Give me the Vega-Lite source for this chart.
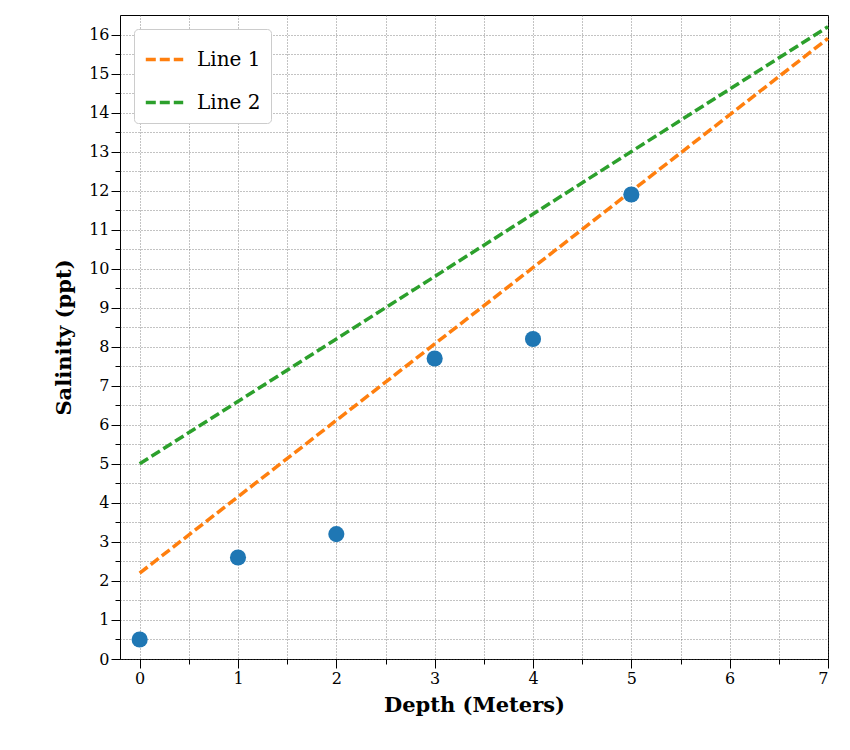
{
  "$schema": "https://vega.github.io/schema/vega-lite/v6.json",
  "width": 708,
  "height": 644,
  "autosize": "none",
  "padding": {"left": 120, "top": 15, "right": 22, "bottom": 91},
  "background": "white",
  "config": {
    "font": "DejaVu Serif",
    "view": {"stroke": "black", "strokeWidth": 1}
  },
  "datasets": {
    "pts": [
      {"depth": 0, "sal": 0.5},
      {"depth": 1, "sal": 2.6},
      {"depth": 2, "sal": 3.2},
      {"depth": 3, "sal": 7.7},
      {"depth": 4, "sal": 8.2},
      {"depth": 5, "sal": 11.9}
    ],
    "lines": [
      {"series": "Line 1", "depth": 0, "sal": 2.2},
      {"series": "Line 1", "depth": 7, "sal": 15.9},
      {"series": "Line 2", "depth": 0, "sal": 5.0},
      {"series": "Line 2", "depth": 7, "sal": 16.2}
    ]
  },
  "resolve": {"axis": {"x": "independent", "y": "independent"}},
  "layer": [
    {
      "data": {"name": "pts"},
      "mark": {"type": "point", "opacity": 0},
      "encoding": {
        "x": {"field": "depth", "type": "quantitative", "scale": {"domain": [-0.2, 7], "nice": false, "zero": false},
          "axis": {"orient": "bottom", "values": [0,0.5,1,1.5,2,2.5,3,3.5,4,4.5,5,5.5,6,6.5,7], "labels": false, "title": null, "domain": false,
            "gridColor": "#555", "gridDash": [1, 2], "gridWidth": 0.7, "tickSize": 5, "tickColor": "black"}},
        "y": {"field": "sal", "type": "quantitative", "scale": {"domain": [0, 16.5], "nice": false},
          "axis": {"orient": "left", "values": [0,0.5,1,1.5,2,2.5,3,3.5,4,4.5,5,5.5,6,6.5,7,7.5,8,8.5,9,9.5,10,10.5,11,11.5,12,12.5,13,13.5,14,14.5,15,15.5,16], "labels": false, "title": null, "domain": false,
            "gridColor": "#555", "gridDash": [1, 2], "gridWidth": 0.7, "tickSize": 5, "tickColor": "black"}}
      }
    },
    {
      "data": {"name": "pts"},
      "mark": {"type": "point", "opacity": 0},
      "encoding": {
        "x": {"field": "depth", "type": "quantitative",
          "axis": {"orient": "bottom", "values": [0,1,2,3,4,5,6,7], "title": "Depth (Meters)", "titleFontSize": 21, "titleFontWeight": "bold", "titleColor": "black",
            "labelFontSize": 16, "labelColor": "black", "labelFontWeight": "normal", "domain": false,
            "gridColor": "#d96060", "gridOpacity": 0.6, "gridWidth": 1, "tickSize": 9, "tickColor": "black", "titlePadding": 8}},
        "y": {"field": "sal", "type": "quantitative",
          "axis": {"orient": "left", "values": [0,1,2,3,4,5,6,7,8,9,10,11,12,13,14,15,16], "title": "Salinity (ppt)", "titleFontSize": 21, "titleFontWeight": "bold", "titleColor": "black",
            "labelFontSize": 16, "labelColor": "black", "domain": false,
            "gridColor": "#d96060", "gridOpacity": 0.6, "gridWidth": 1, "tickSize": 9, "tickColor": "black", "titlePadding": 14}}
      }
    },
    {
      "data": {"name": "lines"},
      "mark": {"type": "line", "strokeDash": [10, 4], "strokeWidth": 3.5},
      "encoding": {
        "x": {"field": "depth", "type": "quantitative", "axis": null},
        "y": {"field": "sal", "type": "quantitative", "axis": null},
        "color": {"field": "series", "type": "nominal",
          "scale": {"domain": ["Line 1", "Line 2"], "range": ["#ff7f0e", "#2ca02c"]},
          "legend": {"orient": "none", "legendX": 14, "legendY": 14, "title": null, "labelFontSize": 20, "labelColor": "black",
            "symbolType": "stroke", "symbolStrokeWidth": 3.5, "symbolDash": [10, 4], "symbolSize": 1400, "rowPadding": 12, "labelOffset": 12,
            "fillColor": "white", "strokeColor": "#ccc", "padding": 10, "cornerRadius": 4}}
      }
    },
    {
      "data": {"name": "pts"},
      "mark": {"type": "point", "filled": true, "opacity": 1, "size": 260, "color": "#1f77b4", "shape": "circle"},
      "encoding": {
        "x": {"field": "depth", "type": "quantitative", "axis": null},
        "y": {"field": "sal", "type": "quantitative", "axis": null}
      }
    }
  ]
}
